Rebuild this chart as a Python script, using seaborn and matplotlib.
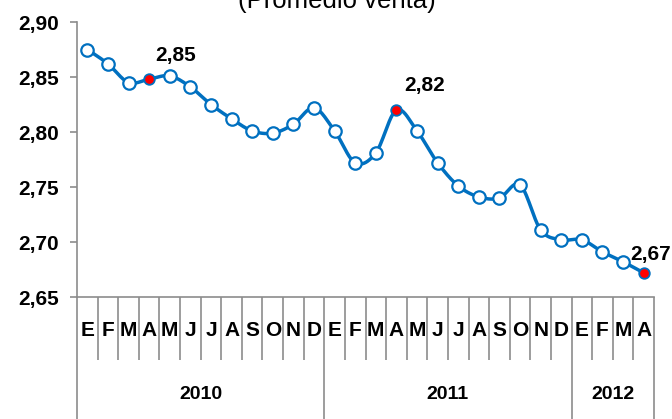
import numpy as np
import matplotlib
matplotlib.use("Agg")
import matplotlib.pyplot as plt
import seaborn as sns

# data (Promedio venta, E-2010 .. A-2012)
months = ['E', 'F', 'M', 'A', 'M', 'J', 'J', 'A', 'S', 'O', 'N', 'D',
          'E', 'F', 'M', 'A', 'M', 'J', 'J', 'A', 'S', 'O', 'N', 'D',
          'E', 'F', 'M', 'A']
years = ['2010', '2011', '2012']
year_counts = [12, 12, 4]
values = [2.875, 2.862, 2.845, 2.848, 2.851, 2.841, 2.825, 2.812, 2.801, 2.799, 2.807, 2.822,
          2.801, 2.772, 2.781, 2.820, 2.801, 2.772, 2.751, 2.741, 2.740, 2.752, 2.711, 2.702,
          2.702, 2.691, 2.682, 2.672]
highlight_idx = [3, 15, 27]
highlight_labels = ['2,85', '2,82', '2,67']

BLUE = '#0070C0'
GRAY = '#8C8C8C'

sns.set_theme(style="white")
plt.rcParams['font.family'] = ['Liberation Sans', 'DejaVu Sans']
plt.rcParams['text.color'] = 'black'


def smooth_curve(xs, ys, yscale, n=24):
    # Catmull-Rom pass through the points (like a "smoothed line" in a spreadsheet)
    pts = np.column_stack([xs, np.asarray(ys) * yscale])
    P = np.vstack([pts[0], pts, pts[-1]])
    t = np.linspace(0, 1, n)[:, None]
    segs = []
    for i in range(1, len(P) - 2):
        p0, p1, p2, p3 = P[i - 1], P[i], P[i + 1], P[i + 2]
        seg = 0.5 * ((2 * p1) + (-p0 + p2) * t + (2 * p0 - 5 * p1 + 4 * p2 - p3) * t ** 2
                     + (-p0 + 3 * p1 - 3 * p2 + p3) * t ** 3)
        segs.append(seg)
    out = np.vstack(segs)
    return out[:, 0], out[:, 1] / yscale


fig = plt.figure(figsize=(6.72, 4.19), dpi=100)
ax = fig.add_axes([77 / 672, 1 - 297 / 419, 577 / 672, 275 / 419])

x = np.arange(len(values))
sx, sy = smooth_curve(x, values, yscale=53.4)
ax.plot(sx, sy, color=BLUE, lw=2.5, solid_capstyle='round', zorder=2)

normal = [i for i in x if i not in highlight_idx]
sns.scatterplot(x=x[normal], y=[values[i] for i in normal], ax=ax, s=80, color='white',
                edgecolor=BLUE, linewidth=1.6, zorder=3)
sns.scatterplot(x=x[highlight_idx], y=[values[i] for i in highlight_idx], ax=ax, s=58,
                color='#FF0000', edgecolor=BLUE, linewidth=1.3, zorder=4)

offsets = [(19, 17), (20, 18), (5, 13)]
for i, lab, off in zip(highlight_idx, highlight_labels, offsets):
    ax.annotate(lab, (i, values[i]), xytext=off, textcoords='offset points',
                ha='center', va='center', fontsize=15, fontweight='bold', color='black')

ax.set_xlim(-0.5, len(values) - 0.5)
ax.set_ylim(2.65, 2.90)
yt = np.arange(2.65, 2.901, 0.05)
ax.set_yticks(yt)
ax.set_yticklabels([f'{v:.2f}'.replace('.', ',') for v in yt], fontsize=15, fontweight='bold')
ax.set_xticks([])
ax.tick_params(axis='y', direction='out', length=5, width=1.2, color=GRAY, pad=8, left=True,
               labelcolor='black')

for s in ['top', 'right']:
    ax.spines[s].set_visible(False)
for s in ['left', 'bottom']:
    ax.spines[s].set_color(GRAY)
    ax.spines[s].set_linewidth(1.2)

trans = ax.get_xaxis_transform()
# separators between months
bounds = np.cumsum([0] + year_counts) - 0.5
month_seps = [i + 0.5 for i in range(len(values) - 1) if (i + 0.5) not in bounds]
ax.vlines(month_seps, -63 / 275, 0, transform=trans, color=GRAY, lw=1.2, clip_on=False)
# separators between years, down to the bottom edge
ax.vlines(bounds, -0.45, 0, transform=trans, color=GRAY, lw=1.2, clip_on=False)

for i, m in enumerate(months):
    ax.text(i, -0.12, m, transform=trans, ha='center', va='center',
            fontsize=15, fontweight='bold', color='black')
for k, yr in enumerate(years):
    center = (bounds[k] + bounds[k + 1]) / 2
    ax.text(center, -0.356, yr, transform=trans, ha='center', va='center',
            fontsize=14, fontweight='bold', color='black')

ax.set_xlabel('')
ax.set_ylabel('')
fig.text(337 / 672, 1 - 8 / 419, '(Promedio venta)', ha='center', va='baseline',
         fontsize=18.5, color='black')

fig.savefig('out.png', dpi=100)
